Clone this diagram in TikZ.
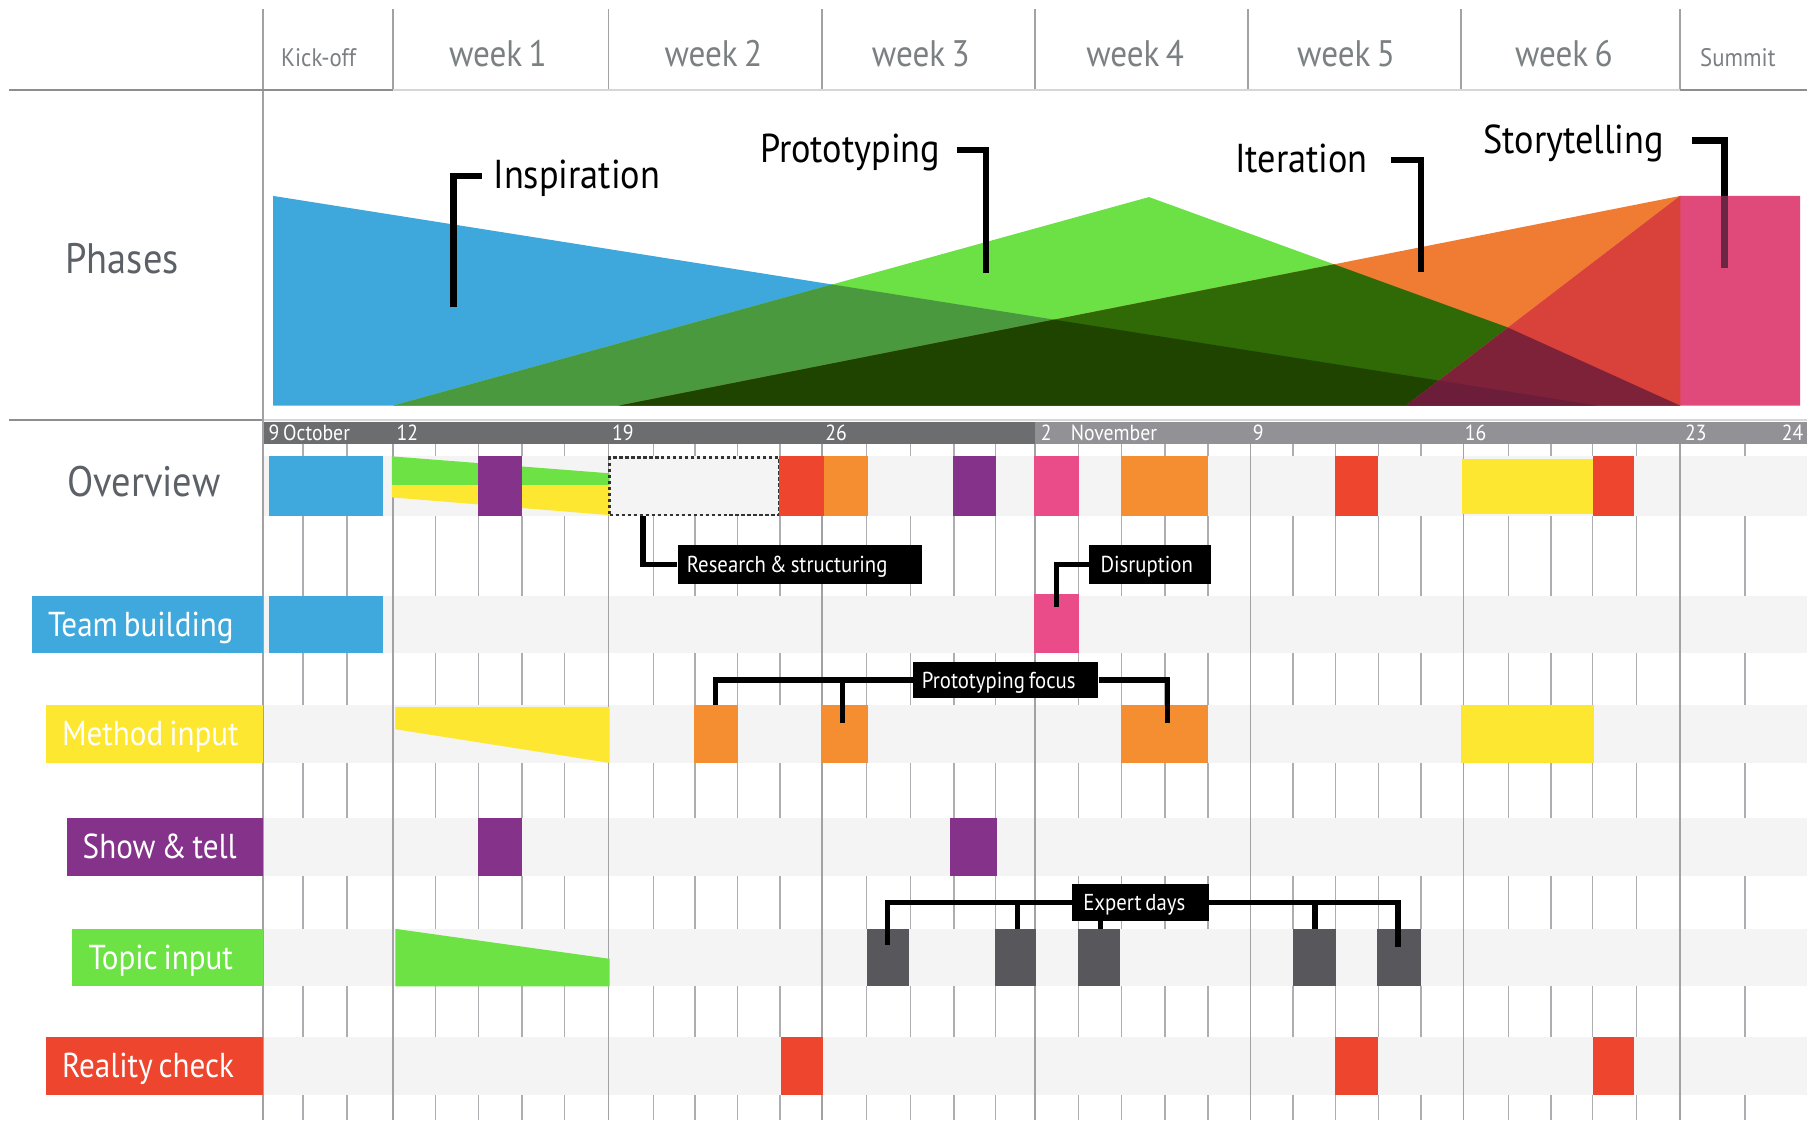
\documentclass[tikz,border=0pt]{standalone}
\usepackage{fontspec}
\setmainfont{PT Sans}[FakeStretch=0.9]
\usetikzlibrary{calc}
% narrower interword space, set right after the size is chosen
\newcommand\tightsp{\fontdimen2\font=0.17em\relax}
% one-line label that keeps the font's own (narrow) interword space
\newcommand\lblbox[1]{\mbox{\spaceskip=0pt\xspaceskip=0pt\relax #1}}

% palette
\definecolor{cBlue}{HTML}{3FA9DD}
\definecolor{cYellow}{HTML}{FDE731}
\definecolor{cPurple}{HTML}{84328A}
\definecolor{cGreen}{HTML}{6DE245}
\definecolor{cRed}{HTML}{EE452E}
\definecolor{cOrange}{HTML}{F48E30}
\definecolor{cPink}{HTML}{EA4C89}
\definecolor{cSlate}{HTML}{58575C}
\definecolor{cBand}{HTML}{F4F4F4}
\definecolor{cDay}{HTML}{ADADB2}
\definecolor{cWeek}{HTML}{A2A2A4}
\definecolor{cBarDark}{HTML}{6B6D6E}
\definecolor{cBarLight}{HTML}{929196}
\definecolor{cHeadText}{HTML}{7B8083}
\definecolor{cSideText}{HTML}{5C6167}
\definecolor{cRuleDark}{HTML}{8E8E8E}
\definecolor{cRuleLight}{HTML}{D6D6D6}
% phase colours and their overlaps
\definecolor{colB}{HTML}{3EA8DC}
\definecolor{colG}{HTML}{6BE146}
\definecolor{colBG}{HTML}{4A993E}
\definecolor{colO}{HTML}{F07C33}
\definecolor{colGO}{HTML}{2F6A06}
\definecolor{colBGO}{HTML}{1F4400}
\definecolor{colP}{HTML}{E04A7B}
\definecolor{colOP}{HTML}{D9413B}
\definecolor{colGOP}{HTML}{7E2239}
\definecolor{colBGOP}{HTML}{6B1D39}
\definecolor{colStoryRule}{HTML}{6A2743}

\tikzset{
  headlbl/.style={font={\fontsize{32}{34}\selectfont\tightsp}, text=cHeadText, inner sep=0pt},
  headsmall/.style={font={\fontsize{22}{24}\selectfont\tightsp}, text=cHeadText, inner sep=0pt},
  sidetitle/.style={font={\fontsize{37}{40}\selectfont\tightsp}, text=cSideText, inner sep=0pt},
  phaselbl/.style={font={\fontsize{35}{38}\selectfont\tightsp}, text=black, inner ysep=0pt,
                   text height=22pt, text depth=0pt},
  bracket/.style={line width=5.5pt, black, line join=miter},
  rowlbl/.style={font={\fontsize{30}{32}\selectfont\tightsp}, text=white, anchor=east, align=left,
                 inner xsep=14pt, inner ysep=0pt, minimum height=50pt,
                 text height=20.5pt, text depth=0pt},
  callout/.style={fill=black, text=white, font={\fontsize{20}{22}\selectfont\tightsp}, align=left,
                  inner xsep=8pt, inner ysep=0pt, minimum height=34pt,
                  text height=14pt, text depth=0pt},
  lead/.style={line width=4.5pt, black, line join=miter},
  datelbl/.style={font={\fontsize{19}{21}\selectfont\tightsp}, text=white, inner sep=0pt, anchor=base west},
  headrule/.style={line width=1.5pt, draw=cWeek},
  dayline/.style={line width=1.3pt, draw=cDay},
  weekline/.style={line width=1.5pt, draw=cWeek},
  % phase outlines
  shpB/.style={insert path={(237,170) -- (1386,352) -- (237,352) -- cycle}},
  shpG/.style={insert path={(341,352) -- (997,171) -- (1308,284) -- (1458,352) -- cycle}},
  shpO/.style={insert path={(537,352) -- (1458,170) -- (1458,352) -- cycle}},
  shpP/.style={insert path={(1220,352) -- (1458,170) -- (1562,170) -- (1562,352) -- cycle}},
}

\begin{document}
\begin{tikzpicture}[x=1pt, y=-1pt]
\fill[white] (0,0) rectangle (1568,972);
\useasboundingbox (0,0) rectangle (1568,972);

% ---------- header row ----------
\foreach \x in {341,528,713,898,1083,1268,1458}
  \draw[headrule] (\x,8) -- (\x,78);
\draw[headrule] (228,8) -- (228,364);
\draw[line width=1.5pt, cRuleDark] (8,78) -- (341,78);
\draw[line width=1.5pt, cRuleLight] (341,78) -- (1458,78);
\draw[line width=1.5pt, cRuleDark] (1458,78) -- (1568,78);

\node[headsmall, anchor=base] (hd-kick) at (276.5,57.3) {Kick-off};
\node[headlbl, anchor=base] (hd-w1) at (432,58) {week 1};
\node[headlbl, anchor=base] (hd-w2) at (619,58) {week 2};
\node[headlbl, anchor=base] (hd-w3) at (799,58) {week 3};
\node[headlbl, anchor=base] (hd-w4) at (985,58) {week 4};
\node[headlbl, anchor=base] (hd-w5) at (1168,58) {week 5};
\node[headlbl, anchor=base] (hd-w6) at (1357,58) {week 6};
\node[headsmall, anchor=base] (hd-summit) at (1508,57.3) {Summit};

% ---------- phases ----------
\node[sidetitle, anchor=base] (phases) at (106,237) {Phases};

\fill[colB, shpB];
\fill[colG, shpG];
\begin{scope}\clip[shpG]; \fill[colBG, shpB];\end{scope}
\fill[colO, shpO];
\begin{scope}\clip[shpO]; \fill[colGO, shpG];\end{scope}
\begin{scope}\clip[shpO]; \clip[shpG]; \fill[colBGO, shpB];\end{scope}

\node[phaselbl, anchor=west, inner xsep=10pt] (insp) at (418,152.7) {Inspiration};
\coordinate (insp-end) at (393.5,266);
\draw[bracket] (insp.west) -| (insp-end);

\node[phaselbl, anchor=east, inner xsep=14pt] (proto) at (830,130) {Prototyping};
\coordinate (proto-end) at (855.5,237);
\draw[bracket] (proto.east) -| (proto-end);

\node[phaselbl, anchor=east, inner xsep=20pt] (iter) at (1207,138.8) {Iteration};
\coordinate (iter-end) at (1233,235.7);
\draw[bracket] (iter.east) -| (iter-end);

\node[phaselbl, anchor=east, inner xsep=24pt] (story) at (1468,122) {Storytelling};
\coordinate (story-end) at (1496.5,232.7);
\coordinate (story-mid) at (1496.5,170);
\draw[bracket] (story.east) -| (story-end);

\fill[colP, shpP];
\begin{scope}\clip[shpP]; \fill[colOP, shpO];\end{scope}
\begin{scope}\clip[shpP]; \clip[shpO]; \fill[colGOP, shpG];\end{scope}
\begin{scope}\clip[shpP]; \clip[shpO]; \clip[shpG]; \fill[colBGOP, shpB];\end{scope}
\draw[line width=5.5pt, colStoryRule] (story-mid) -- (story-end);

% ---------- date bar ----------
\draw[line width=1.5pt, cRuleDark] (8,364.5) -- (228,364.5);
\draw[line width=1.5pt, cRuleLight] (228,364.5) -- (1568,364.5);
\fill[cBarDark] (228,366) rectangle (898,385);
\fill[cBarLight] (898,366) rectangle (1568,385);
\node[datelbl] (d-oct9) at (233,382) {9 October};
\node[datelbl] (d-12) at (344,382) {12};
\node[datelbl] (d-19) at (531,382) {19};
\node[datelbl] (d-26) at (716,382) {26};
\node[datelbl] (d-2) at (903,382) {2};
\node[datelbl] (d-nov) at (929,382) {November};
\node[datelbl] (d-9) at (1087,382) {9};
\node[datelbl] (d-16) at (1271,382) {16};
\node[datelbl] (d-23) at (1462,382) {23};
\node[datelbl] (d-24) at (1546,382) {24};

% ---------- day grid and row bands ----------
\foreach \x in {263,301,378,415,453,490,567,603,640,677,752,790,828,864,936,973,1011,1048,
                1122,1159,1196,1233,1309,1346,1382,1420,1514}
  \draw[dayline] (\x,385) -- (\x,972);
\foreach \ya/\yb in {396/448,517/567,612/662,710/760,806/856,900/950}
  \fill[cBand] (228,\ya) rectangle (1568,\yb);
\foreach \x in {341,528,713,898,1085,1270,1458}
  \draw[weekline] (\x,385) -- (\x,972);
\draw[weekline] (228,364) -- (228,972);

% ---------- overview row ----------
\fill[cBlue] (233,396) rectangle (332,448);
\fill[cGreen] (340,396) -- (529,410.7) -- (529,421) -- (340,421) -- cycle;
\fill[cYellow] (340,421) -- (529,421) -- (529,447) -- (340,431.6) -- cycle;
\fill[cPurple] (415,396) rectangle (453,448);
\node[draw=black!80, line width=2pt, dash pattern=on 3pt off 2.2pt, fill=cBand,
      minimum width=147pt, minimum height=50pt, inner sep=0pt] (rsframe) at (602.5,422) {};
\fill[cRed] (676,396) rectangle (715,448);
\fill[cOrange] (715,396) rectangle (753,448);
\fill[cPurple] (827,396) rectangle (864,448);
\fill[cPink] (897,396) rectangle (936,448);
\fill[cOrange] (973,396) rectangle (1048,448);
\fill[cRed] (1158,396) rectangle (1196,448);
\fill[cYellow] (1269,398) rectangle (1382,446);
\fill[cRed] (1382,396) rectangle (1418,448);

% ---------- team building ----------
\fill[cBlue] (233,517) rectangle (332,567);
\fill[cPink] (897,515) rectangle (936,567);

% ---------- method input ----------
\fill[cYellow] (343,613.6) -- (529,613.6) -- (529,662) -- (343,632.8) -- cycle;
\fill[cOrange] (602,612) rectangle (640,662);
\fill[cOrange] (713,612) rectangle (753,662);
\fill[cOrange] (973,612) rectangle (1048,662);
\fill[cYellow] (1268,612) rectangle (1383,662);

% ---------- show & tell ----------
\fill[cPurple] (415,710) rectangle (453,760);
\fill[cPurple] (824,710) rectangle (865,760);

% ---------- topic input ----------
\fill[cGreen] (343,806) -- (529,832) -- (529,856) -- (343,856) -- cycle;
\foreach \xa/\xb in {752/789,863/899,935/972,1122/1159,1195/1233}
  \fill[cSlate] (\xa,806) rectangle (\xb,856);

% ---------- reality check ----------
\foreach \xa/\xb in {678/714,1158/1196,1382/1418}
  \fill[cRed] (\xa,900) rectangle (\xb,950);

% ---------- call-outs ----------
\node[callout, text width=196pt] (rsbox) at (694,489.5) {\lblbox{Research \& structuring}};
\coordinate (rs-foot) at (558,448);
\draw[lead] (rsbox.west) -| (rs-foot);

\node[callout, text width=86pt, inner xsep=10pt] (disbox) at (998,489.5) {\lblbox{Disruption}};
\coordinate (dis-foot) at (917,527);
\draw[lead] (disbox.west) -| (dis-foot);

\node[callout, text width=145pt, minimum height=32pt] (pfbox) at (872.5,590) {\lblbox{Prototyping focus}};
\coordinate (pf-a) at (621,612);
\coordinate (pf-b) at (731,627);
\coordinate (pf-c) at (1013,627);
\draw[lead] (pfbox.west) -| (pf-a);
\draw[lead] (pf-b) |- (pfbox.west);
\draw[lead] (pfbox.east) -| (pf-c);

\node[callout, text width=99pt, inner xsep=10pt, minimum height=32pt] (edbox) at (989.5,783) {\lblbox{Expert days}};
\coordinate (ed-a) at (770,820);
\coordinate (ed-b) at (883,806);
\coordinate (ed-c) at (955,806);
\coordinate (ed-d) at (1141,806);
\coordinate (ed-e) at (1213,822);
\draw[lead] (edbox.west) -| (ed-a);
\draw[lead] (ed-b) |- (edbox.west);
\draw[lead] (ed-c) -- (ed-c |- edbox.south);
\draw[lead] (edbox.east) -| (ed-e);
\draw[lead] (ed-d) |- (edbox.east);

% ---------- row titles ----------
\node[sidetitle, anchor=base] (overview) at (125,431) {Overview};
\node[rowlbl, fill=cBlue, text width=172pt] (lbl-team) at (228,542) {\lblbox{Team building}};
\node[rowlbl, fill=cYellow, text width=160pt] (lbl-method) at (228,637) {\lblbox{Method input}};
\node[rowlbl, fill=cPurple, text width=142pt] (lbl-show) at (228,735) {\lblbox{Show \& tell}};
\node[rowlbl, fill=cGreen, text width=137pt] (lbl-topic) at (228,831) {\lblbox{Topic input}};
\node[rowlbl, fill=cRed, text width=160pt] (lbl-reality) at (228,925) {\lblbox{Reality check}};
\end{tikzpicture}
\end{document}
